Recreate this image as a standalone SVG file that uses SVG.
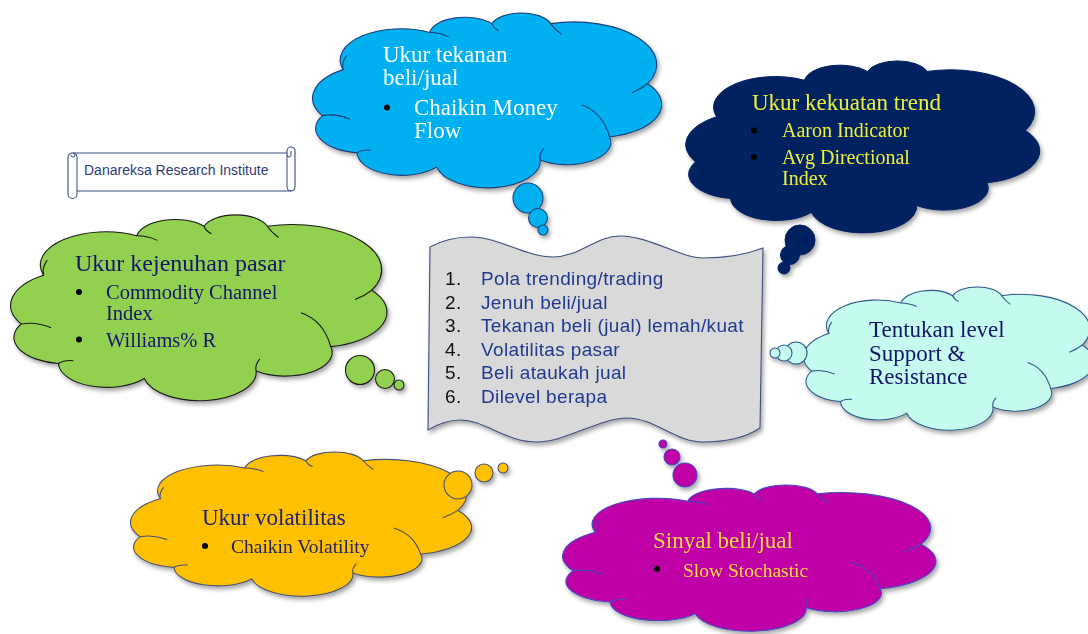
<svg xmlns="http://www.w3.org/2000/svg" xmlns:xlink="http://www.w3.org/1999/xlink" width="1088" height="634" viewBox="0 0 1088 634">
<defs>
<filter id="sh" x="-10%" y="-10%" width="125%" height="130%">
<feDropShadow dx="2" dy="3" stdDeviation="2.2" flood-color="#000" flood-opacity="0.35"/>
</filter>
<path id="cloudOutline" d="M9,32 A19,19 0 0 0 3,58 A14,14 0 0 0 13,79 A13,13 0 0 0 36,87 A15.2,15.2 0 0 0 66,83 A12.6,12.6 0 0 0 86,70 A18.7,18.7 0 0 0 97,40 A24,24 0 0 0 69,6 A9,9 0 0 0 52,6 A10.3,10.3 0 0 0 34,11 A17.6,17.6 0 0 0 9,32 Z" vector-effect="non-scaling-stroke"/>
<path id="cloudCrease" d="M3,58 Q7,56.5 11,60 M13,79 Q14.5,77 17,77.5 M66,83 Q65.5,80 67,76.5 M78,52 Q84,56 86,70 M97,40 Q95,43 92.5,45 M69,6 Q70,9 72,12 M52,6 Q52.5,8.5 54,10 M34,11 Q37,11 39.5,13.5 M9,32 Q8.5,28 10,24" fill="none" vector-effect="non-scaling-stroke"/>
</defs>
<style>
.cl{font-family:"Liberation Serif","DejaVu Serif",serif;}
.doc{font-family:"Liberation Sans","DejaVu Sans",sans-serif;font-size:19px;letter-spacing:0.35px;}
.blue use,.blue circle{fill:#00B0F0;stroke:#1F3F7A;stroke-width:1.1;}
.navy use,.navy circle{fill:#002060;stroke:#002060;stroke-width:1;}
.green use,.green circle{fill:#92D050;stroke:#1a1a1a;stroke-width:1.1;}
.cyan use,.cyan circle{fill:#C4FBEE;stroke:#2F5A8A;stroke-width:1.1;}
.yellow use,.yellow circle{fill:#FFC000;stroke:#4A5070;stroke-width:1.1;}
.mag use,.mag circle{fill:#BE02A6;stroke:#4848C0;stroke-width:1.1;}
.crease{fill:none !important;}
.bul{fill:#000;}
</style>
<rect width="1088" height="634" fill="#fff"/>

<g id="scroll">
<path d="M73,153 H287 V151 A4,4 0 0 1 295,151 V187 A4,4 0 0 1 291,191 H77 V194 A4.5,4.5 0 0 1 68,194 V158 A4.5,4.5 0 0 1 73,153 Z" fill="#fff" stroke="#3A4A8A" stroke-width="1.1"/>
<path d="M287,153 V155 A2,2 0 0 0 291,155 V151 M291,191 A4,4 0 0 1 287,187 V155 M73,153 A2,2 0 0 1 73,157 A2,2 0 0 1 71,155 M77,191 V157 A4,4 0 0 0 73,153" fill="none" stroke="#3A4A8A" stroke-width="1"/>
<text x="84" y="175" font-family="Liberation Sans, Arial, sans-serif" font-size="14" fill="#2E3B78">Danareksa Research Institute</text>
</g>

<g id="cloud-blue" class="blue" filter="url(#sh)">
<use xlink:href="#cloudOutline" transform="translate(312,13) scale(3.46,1.77)"/>
<use xlink:href="#cloudCrease" class="crease" transform="translate(312,13) scale(3.46,1.77)"/>
<circle cx="528" cy="198" r="15"/>
<circle cx="538" cy="218" r="9.5"/>
<circle cx="543" cy="230" r="5"/>
</g>
<g class="cl" fill="#fff" font-size="23">
<text x="383" y="62">Ukur tekanan</text>
<text x="383" y="85">beli/jual</text>
<circle class="bul" cx="387" cy="107.5" r="3"/>
<text x="414" y="115">Chaikin Money</text>
<text x="414" y="138">Flow</text>
</g>

<g id="cloud-navy" class="navy" filter="url(#sh)">
<use xlink:href="#cloudOutline" transform="translate(685,61) scale(3.51,1.74)"/>
<circle cx="800" cy="240" r="15"/>
<circle cx="790" cy="255" r="9.5"/>
<circle cx="784" cy="268" r="6"/>
</g>
<g class="cl" fill="#EEF03A">
<text x="752" y="110" font-size="23">Ukur kekuatan trend</text>
<circle class="bul" cx="754" cy="130.5" r="3"/>
<text x="782" y="137" font-size="20">Aaron Indicator</text>
<circle class="bul" cx="754" cy="157" r="3"/>
<text x="782" y="164" font-size="20">Avg Directional</text>
<text x="782" y="185" font-size="20">Index</text>
</g>

<g id="cloud-green" class="green" filter="url(#sh)">
<use xlink:href="#cloudOutline" transform="translate(10,215) scale(3.73,1.88)"/>
<use xlink:href="#cloudCrease" class="crease" transform="translate(10,215) scale(3.73,1.88)"/>
<circle cx="360" cy="370" r="14.5"/>
<circle cx="385" cy="379" r="9.5"/>
<circle cx="399" cy="385" r="5"/>
</g>
<g class="cl" fill="#15156A">
<text x="75" y="271" font-size="24">Ukur kejenuhan pasar</text>
<circle class="bul" cx="79" cy="292" r="3"/>
<text x="106" y="299" font-size="20.5">Commodity Channel</text>
<text x="106" y="320" font-size="20.5">Index</text>
<circle class="bul" cx="79" cy="339.5" r="3"/>
<text x="106" y="347" font-size="20.5">Williams% R</text>
</g>

<g id="document" filter="url(#sh)">
<path d="M430,247 C445,239 458,237 470,237 C500,237 525,257 553,257 C580,257 595,236 620,236 C650,236 680,258 703,258 C725,258 745,255 763,248 L760,428 C745,438 725,442 703,442 C675,442 655,418 627,418 C600,418 565,442 537,442 C505,442 485,420 460,420 C448,420 438,424 428,430 Z" fill="#D9D9D9" stroke="#3F4F7F" stroke-width="1.1"/>
</g>
<g class="doc" fill="#1F3A8F">
<text x="445" y="285"><tspan fill="#111">1.</tspan><tspan x="481">Pola trending/trading</tspan></text>
<text x="445" y="308.5"><tspan fill="#111">2.</tspan><tspan x="481">Jenuh beli/jual</tspan></text>
<text x="445" y="332"><tspan fill="#111">3.</tspan><tspan x="481">Tekanan beli (jual) lemah/kuat</tspan></text>
<text x="445" y="355.5"><tspan fill="#111">4.</tspan><tspan x="481">Volatilitas  pasar</tspan></text>
<text x="445" y="379"><tspan fill="#111">5.</tspan><tspan x="481">Beli ataukah jual</tspan></text>
<text x="445" y="402.5"><tspan fill="#111">6.</tspan><tspan x="481">Dilevel  berapa</tspan></text>
</g>

<g id="cloud-cyan" class="cyan" filter="url(#sh)">
<use xlink:href="#cloudOutline" transform="translate(803,287) scale(2.88,1.45)"/>
<use xlink:href="#cloudCrease" class="crease" transform="translate(803,287) scale(2.88,1.45)"/>
<circle cx="796" cy="353" r="11"/>
<circle cx="784" cy="353" r="8"/>
<circle cx="775" cy="353" r="5"/>
</g>
<g class="cl" fill="#15156A" font-size="23">
<text x="869" y="337">Tentukan level</text>
<text x="869" y="360.5">Support &amp;</text>
<text x="869" y="384">Resistance</text>
</g>

<g id="cloud-yellow" class="yellow" filter="url(#sh)">
<use xlink:href="#cloudOutline" transform="translate(130,452) scale(3.38,1.46)"/>
<use xlink:href="#cloudCrease" class="crease" transform="translate(130,452) scale(3.38,1.46)"/>
<circle cx="458" cy="485" r="14"/>
<circle cx="484" cy="473" r="9"/>
<circle cx="503" cy="468" r="5"/>
</g>
<g class="cl" fill="#22226A">
<text x="202" y="525" font-size="23">Ukur volatilitas</text>
<circle class="bul" cx="205" cy="546" r="3"/>
<text x="231" y="553" font-size="19.5">Chaikin Volatility</text>
</g>

<g id="cloud-magenta" class="mag" filter="url(#sh)">
<use xlink:href="#cloudOutline" transform="translate(562,485) scale(3.70,1.48)"/>
<use xlink:href="#cloudCrease" class="crease" transform="translate(562,485) scale(3.70,1.48)"/>
<circle cx="685" cy="475" r="12"/>
<circle cx="672" cy="457" r="8"/>
<circle cx="663" cy="444" r="4"/>
</g>
<g class="cl" fill="#FFDC3C">
<text x="653" y="548" font-size="23">Sinyal beli/jual</text>
<circle class="bul" cx="657" cy="569" r="3"/>
<text x="683" y="577" font-size="19.5">Slow Stochastic</text>
</g>
</svg>
